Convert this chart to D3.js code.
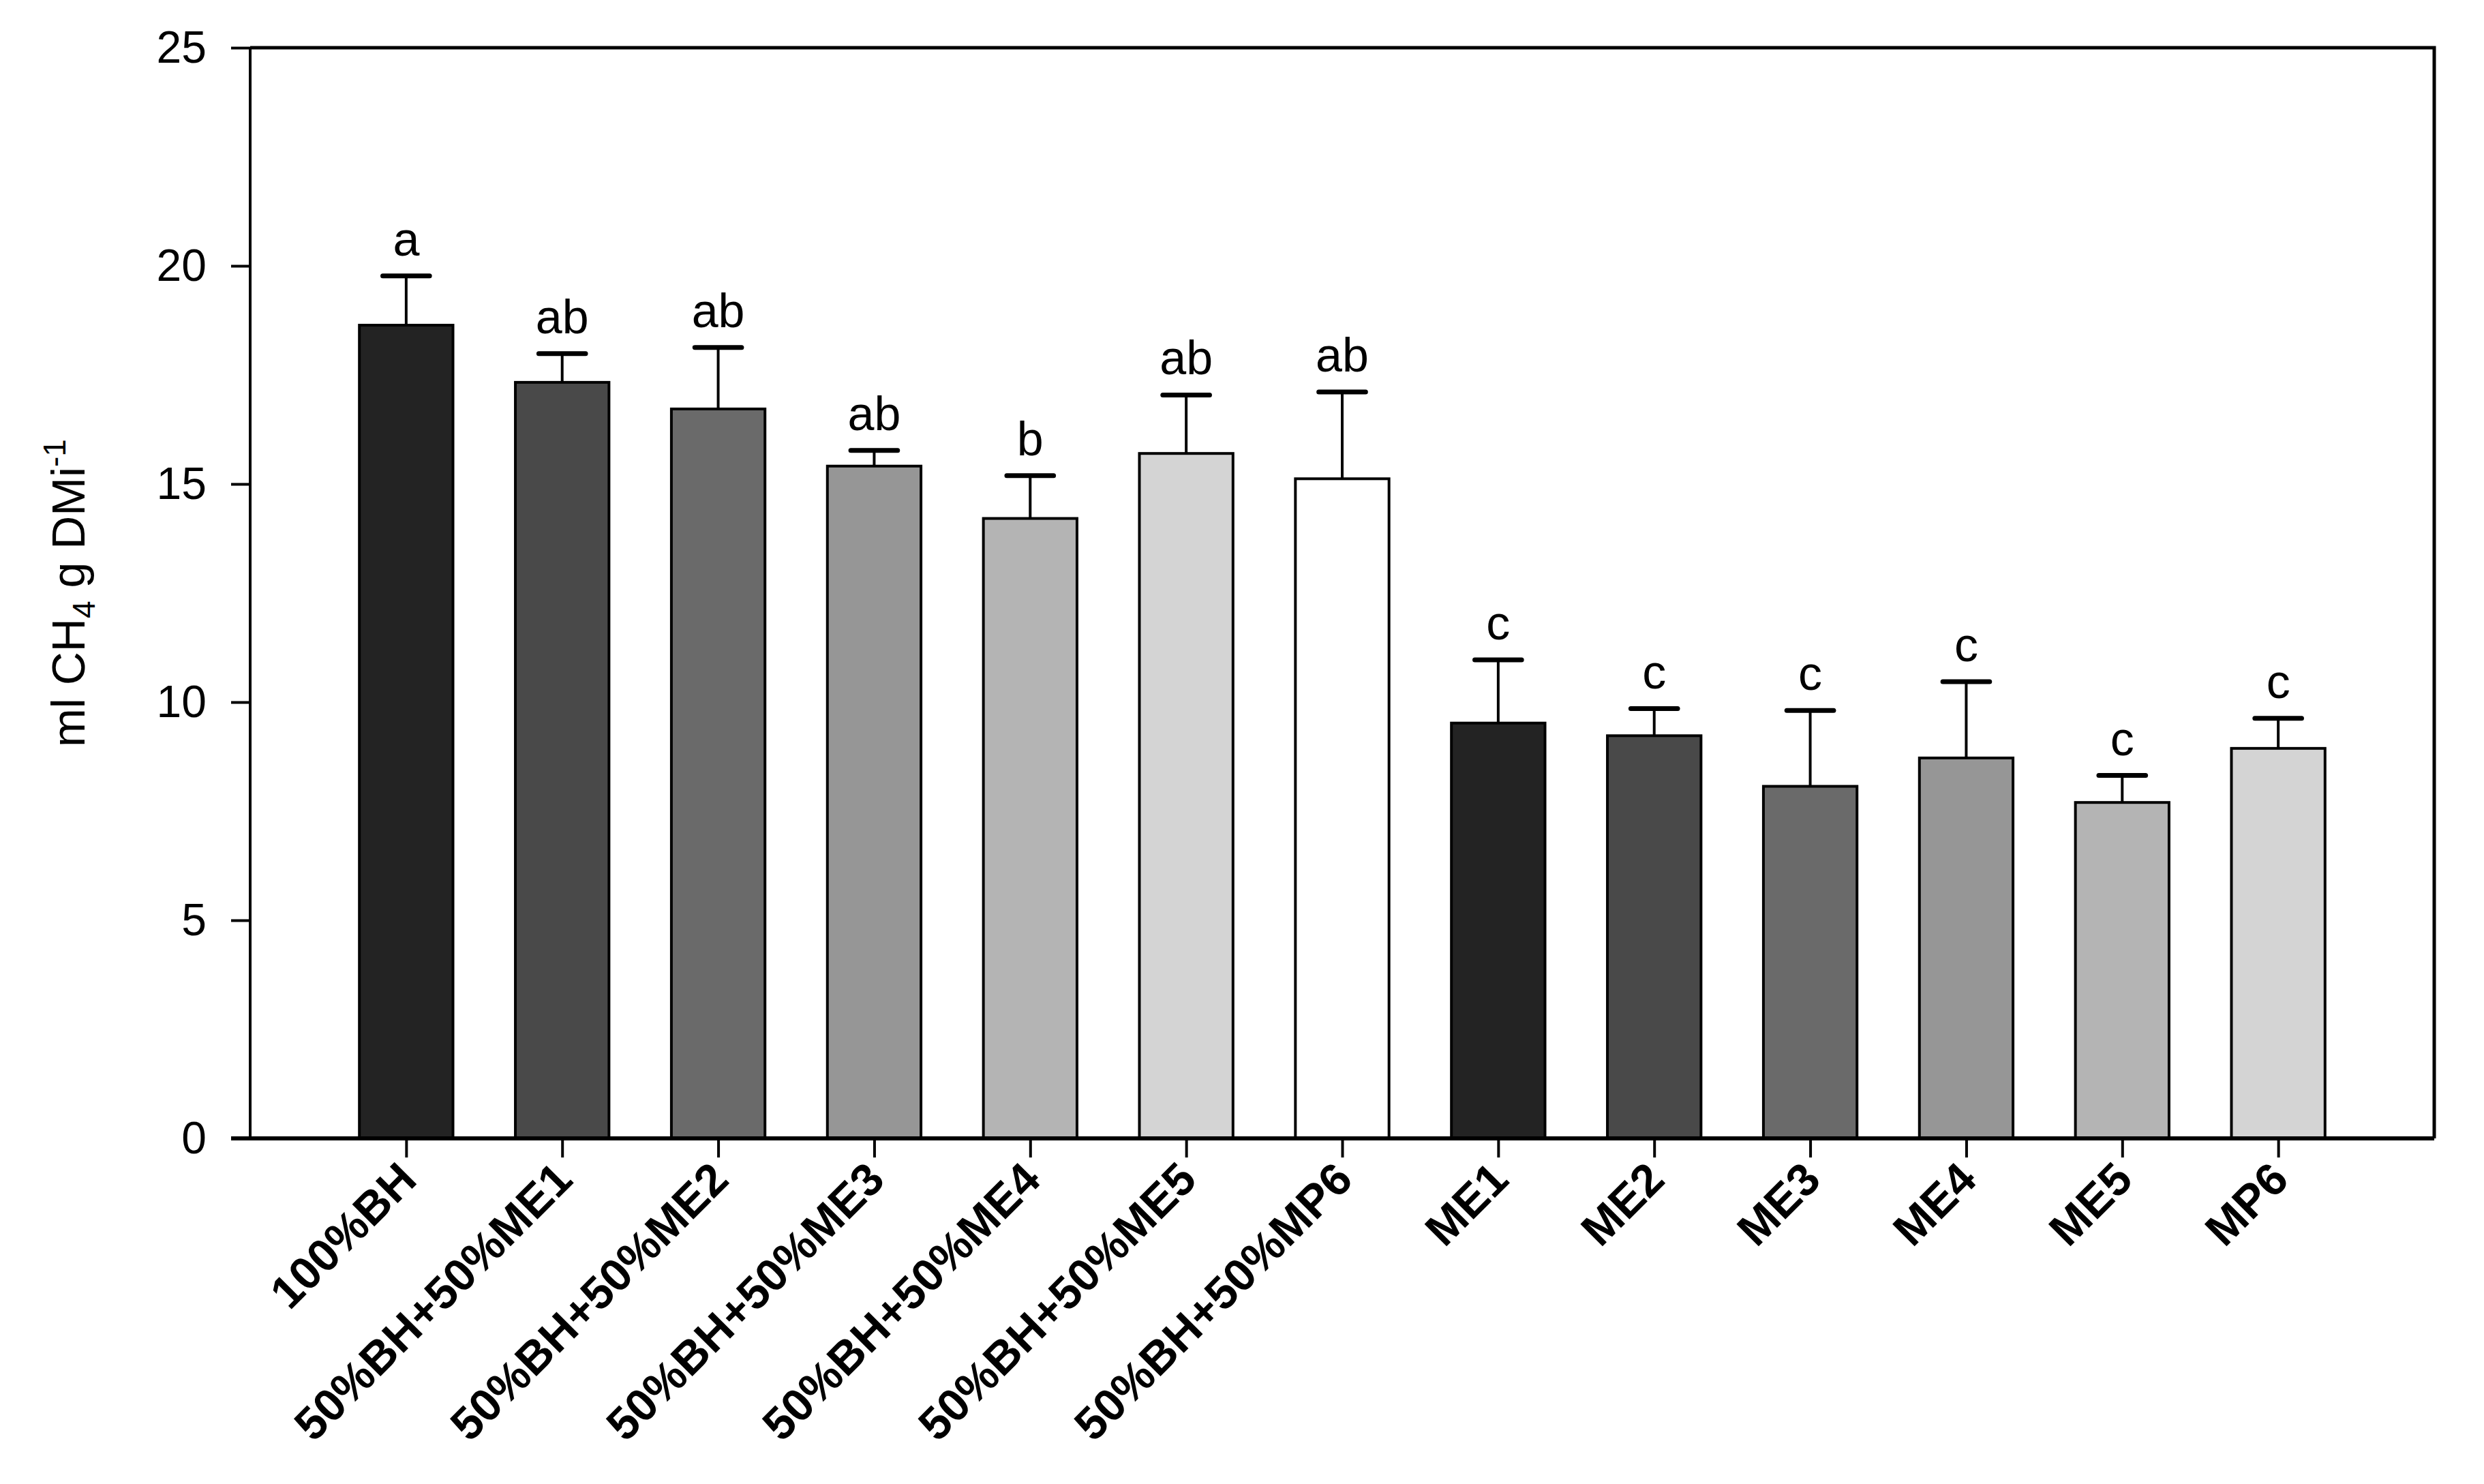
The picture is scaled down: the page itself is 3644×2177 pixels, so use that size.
<!DOCTYPE html>
<html>
<head>
<meta charset="utf-8">
<script src="https://cdn.jsdelivr.net/npm/d3@7"></script>
<style>
  body { margin: 0; background: #fff; }
  text { font-family: "Liberation Sans", Arial, sans-serif; }
</style>
</head>
<body>
<div id="chart"></div>
<script>
// data
var treatments = ["100%BH", "50%BH+50%ME1", "50%BH+50%ME2", "50%BH+50%ME3", "50%BH+50%ME4",
    "50%BH+50%ME5", "50%BH+50%MP6", "ME1", "ME2", "ME3", "ME4", "ME5", "MP6"];
var means = [18.64, 17.33, 16.72, 15.41, 14.21, 15.70, 15.12, 9.52, 9.23, 8.07, 8.72, 7.70, 8.94];
var errors = [1.13, 0.66, 1.41, 0.36, 0.98, 1.34, 1.99, 1.45, 0.62, 1.74, 1.75, 0.62, 0.69];
var letters = ["a", "ab", "ab", "ab", "b", "ab", "ab", "c", "c", "c", "c", "c", "c"];
var fills = ["#232323", "#494949", "#6a6a6a", "#969696", "#b4b4b4", "#d4d4d4", "#ffffff",
    "#232323", "#494949", "#6a6a6a", "#969696", "#b4b4b4", "#d4d4d4"];
var yTicks = [0, 5, 10, 15, 20, 25];

var svgWidth = 3644;
var svgHeight = 2177;
var margin = { top: 70, right: 73, bottom: 507, left: 367 };
var w = svgWidth - margin.left - margin.right;
var h = svgHeight - margin.top - margin.bottom;

var svg = d3.select("#chart")
    .append("svg")
    .attr("width", svgWidth)
    .attr("height", svgHeight);

var chartGroup = svg.append("g")
    .attr("transform", `translate(${margin.left}, ${margin.top})`);

// scales
var xScale = d3.scalePoint().domain(treatments).range([0, w]).padding(1);
var yScale = d3.scaleLinear().domain([0, 25]).range([h, 0]);
var step = xScale.step();
var barW = step * 0.6;
var capW = step * 0.3;

// frame (top + right)
chartGroup.append("path")
    .attr("d", `M0,0H${w}V${h}`)
    .attr("fill", "none")
    .attr("stroke", "#000")
    .attr("stroke-width", 5);

// bars
chartGroup.selectAll(".bar")
    .data(treatments)
    .enter()
    .append("rect")
    .attr("class", "bar")
    .attr("x", d => xScale(d) - barW / 2)
    .attr("y", (d, i) => yScale(means[i]))
    .attr("width", barW)
    .attr("height", (d, i) => h - yScale(means[i]))
    .attr("fill", (d, i) => fills[i])
    .attr("stroke", "#000")
    .attr("stroke-width", 4);

// error bars (upper only)
chartGroup.selectAll(".err")
    .data(treatments)
    .enter()
    .append("line")
    .attr("x1", d => xScale(d))
    .attr("x2", d => xScale(d))
    .attr("y1", (d, i) => yScale(means[i]))
    .attr("y2", (d, i) => yScale(means[i] + errors[i]))
    .attr("stroke", "#000")
    .attr("stroke-width", 4);

chartGroup.selectAll(".cap")
    .data(treatments)
    .enter()
    .append("line")
    .attr("x1", d => xScale(d) - capW / 2)
    .attr("x2", d => xScale(d) + capW / 2)
    .attr("y1", (d, i) => yScale(means[i] + errors[i]))
    .attr("y2", (d, i) => yScale(means[i] + errors[i]))
    .attr("stroke", "#000")
    .attr("stroke-width", 7)
    .attr("stroke-linecap", "round");

// significance letters
chartGroup.selectAll(".letter")
    .data(treatments)
    .enter()
    .append("text")
    .attr("x", d => xScale(d))
    .attr("y", (d, i) => yScale(means[i] + errors[i]) - 30)
    .attr("text-anchor", "middle")
    .attr("font-size", "70px")
    .text((d, i) => letters[i]);

// y axis
var yAxis = chartGroup.append("g")
    .call(d3.axisLeft(yScale).tickValues(yTicks).tickSize(28).tickPadding(36));
yAxis.selectAll("text").attr("font-size", "66px").attr("fill", "#000");
yAxis.selectAll("line").attr("stroke-width", 4);
yAxis.select(".domain").attr("stroke-width", 4).attr("d", `M0,${h}V0`);

// x axis
var xAxis = chartGroup.append("g")
    .attr("transform", `translate(0, ${h})`)
    .call(d3.axisBottom(xScale).tickSize(28).tickSizeOuter(0));
xAxis.select(".domain").attr("stroke-width", 6).attr("d", `M-28,0H${w}`);
xAxis.selectAll("line").attr("stroke-width", 4);
xAxis.selectAll("text")
    .attr("font-size", "67px")
    .attr("font-weight", "bold")
    .attr("fill", "#000")
    .attr("text-anchor", "end")
    .attr("dy", null)
    .attr("y", 0)
    .attr("transform", "translate(18, 64) rotate(-45)");

// y label
var yLabel = svg.append("text")
    .attr("transform", `translate(124, ${margin.top + h / 2}) rotate(-90)`)
    .attr("text-anchor", "middle")
    .attr("font-size", "68px");
yLabel.append("tspan").text("ml CH");
yLabel.append("tspan").attr("font-size", "46px").attr("dy", 15).text("4");
yLabel.append("tspan").attr("dy", -15).text(" g DMi");
yLabel.append("tspan").attr("font-size", "46px").attr("dy", -28).text("-1");
</script>
</body>
</html>
